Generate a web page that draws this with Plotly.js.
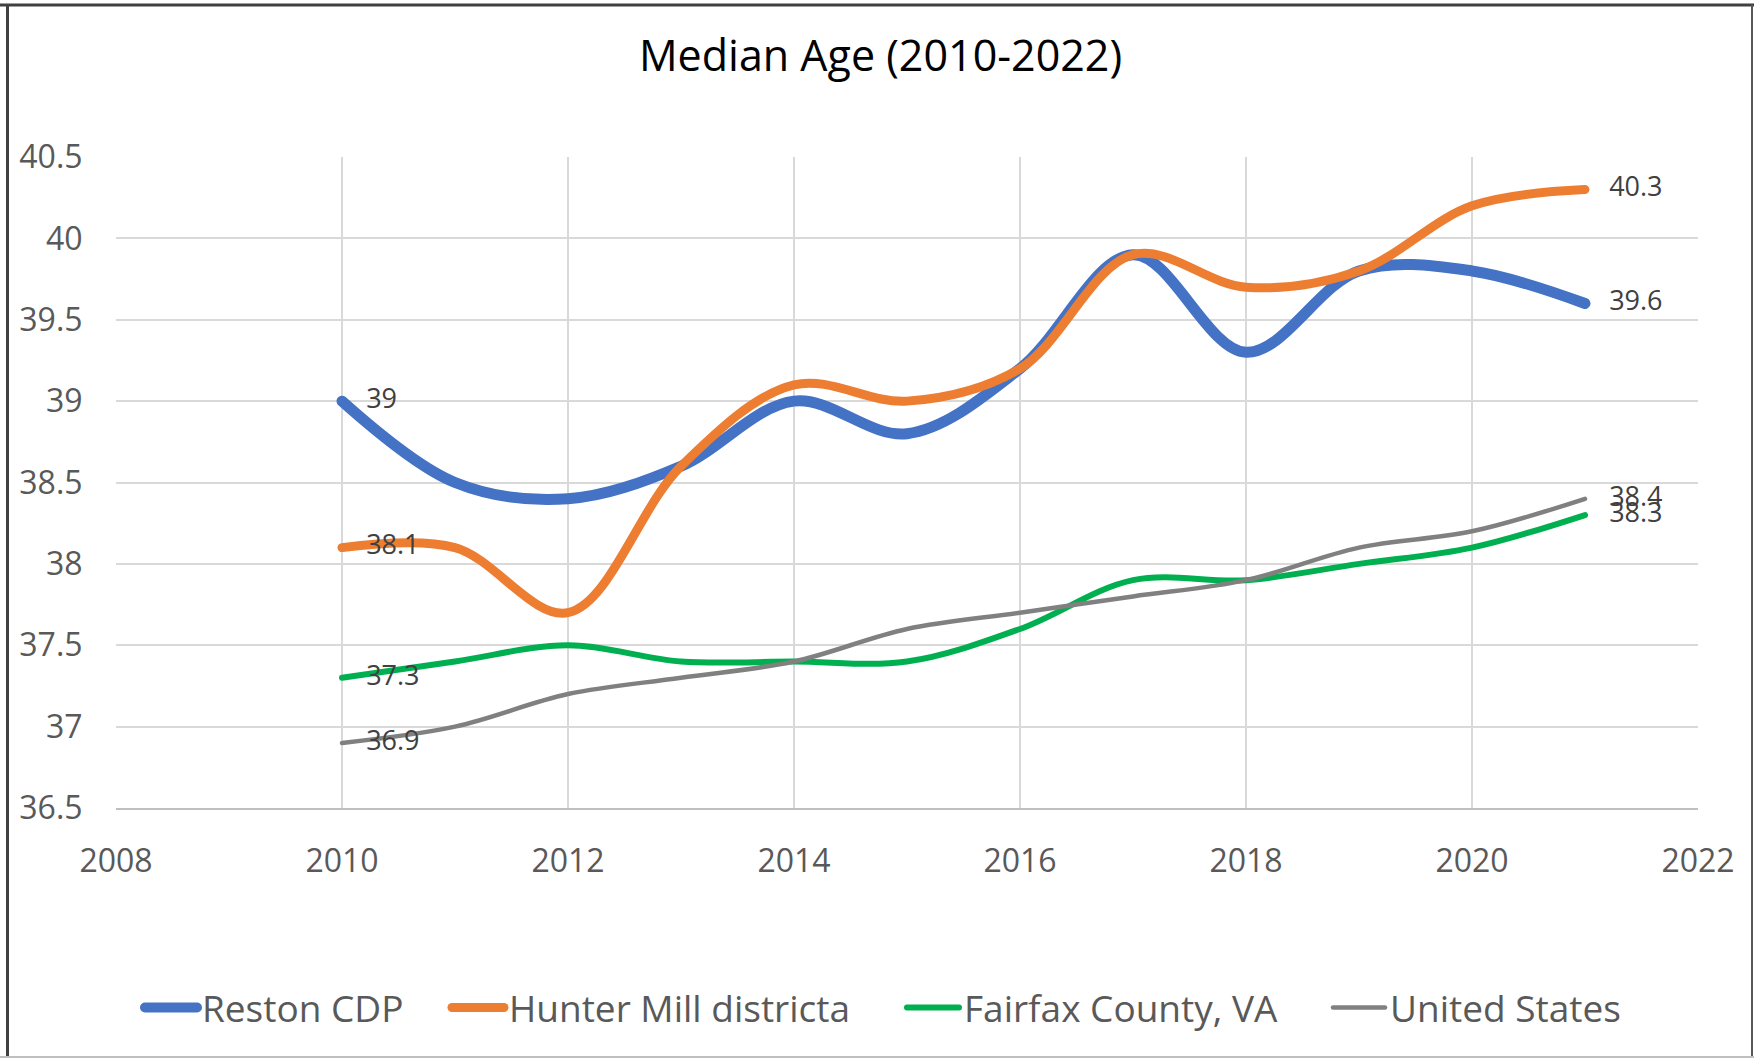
<!DOCTYPE html>
<html>
<head>
<meta charset="utf-8">
<script src="https://cdn.plot.ly/plotly-3.0.1.min.js"></script>
<style>
  html, body { margin: 0; padding: 0; background: #fff; }
  #chart { width: 1754px; height: 1058px; }
  .scatterlayer .js-line, .legendlines path { stroke-linecap: round !important; }
</style>
</head>
<body>
<div id="chart"></div>
<script>
// ---- Data ----
const years = [2010, 2011, 2012, 2013, 2014, 2015, 2016, 2017, 2018, 2019, 2020, 2021];
const seriesNames = ["Reston CDP", "Hunter Mill districta", "Fairfax County, VA", "United States"];
const reston   = [39.0, 38.5, 38.4, 38.6, 39.0, 38.8, 39.2, 39.9, 39.3, 39.8, 39.8, 39.6];
const hunter   = [38.1, 38.1, 37.7, 38.6, 39.1, 39.0, 39.2, 39.9, 39.7, 39.8, 40.2, 40.3];
const fairfax  = [37.3, 37.4, 37.5, 37.4, 37.4, 37.4, 37.6, 37.9, 37.9, 38.0, 38.1, 38.3];
const usa      = [36.9, 37.0, 37.2, 37.3, 37.4, 37.6, 37.7, 37.8, 37.9, 38.1, 38.2, 38.4];
const xTickVals = [2008, 2010, 2012, 2014, 2016, 2018, 2020, 2022];
const xTickText = ["2008", "2010", "2012", "2014", "2016", "2018", "2020", "2022"];
const yTickVals = [36.5, 37, 37.5, 38, 38.5, 39, 39.5, 40, 40.5];
const yTickText = ["36.5", "37", "37.5", "38", "38.5", "39", "39.5", "40", "40.5"];

// ---- Styles ----
const colors = ["#4472C4", "#ED7D31", "#00B050", "#808080"];
const widths = [11, 9, 6, 4.5];
const allSeries = [reston, hunter, fairfax, usa];
const FONT = "'Open Sans', 'Noto Sans', sans-serif";

const W = 1754, H = 1058;
const M = { l: 116, r: 56, t: 157, b: 250 };
const pw = W - M.l - M.r, ph = H - M.t - M.b;
const px2x = p => (p - M.l) / pw;
const py2y = p => (H - M.b - p) / ph;

// legend item left edges (px) – one legend per series
const legendIds = ["legend", "legend2", "legend3", "legend4"];
const legendLeft = [140, 447, 902, 1328];

const traces = [];
allSeries.forEach((vals, i) => {
  traces.push({
    type: "scatter", mode: "lines",
    name: seriesNames[i],
    legend: legendIds[i],
    x: years, y: vals,
    line: { color: colors[i], width: widths[i], shape: "spline", smoothing: 1 },
    hoverinfo: "x+y+name"
  });
});
allSeries.forEach((vals, i) => {
  const n = vals.length;
  traces.push({
    type: "scatter", mode: "markers+text",
    showlegend: false, hoverinfo: "skip",
    x: [years[0], years[n - 1]],
    y: [vals[0], vals[n - 1]],
    text: [String(vals[0]), String(vals[n - 1])],
    textposition: "middle right",
    textfont: { family: FONT, size: 27, color: "#404040" },
    marker: { size: 37, opacity: 0, color: colors[i] },
    cliponaxis: false
  });
});

const border = (x0, y0, x1, y1, color, width) => ({
  type: "line", xref: "paper", yref: "paper",
  x0: px2x(x0), y0: py2y(y0), x1: px2x(x1), y1: py2y(y1),
  line: { color: color, width: width }, layer: "above"
});

const legendStyle = left => ({
  orientation: "h",
  xref: "container", yref: "container",
  x: left / W, xanchor: "left",
  y: 1 - 1008 / H, yanchor: "middle",
  font: { family: FONT, size: 37, color: "#595959" },
  itemwidth: 52,
  bgcolor: "rgba(0,0,0,0)"
});

const layout = {
  width: W, height: H,
  margin: M,
  paper_bgcolor: "#ffffff", plot_bgcolor: "#ffffff",
  font: { family: FONT, color: "#595959" },
  title: {
    text: "Median Age (2010-2022)",
    font: { family: FONT, size: 43, color: "#000000" },
    x: 0.502, xref: "container", xanchor: "center",
    y: 1 - 56 / H, yref: "container", yanchor: "middle"
  },
  xaxis: {
    range: [2008, 2022], tickvals: xTickVals, ticktext: xTickText,
    showgrid: true, gridcolor: "#D9D9D9", gridwidth: 2,
    zeroline: false, showline: true, linecolor: "#BFBFBF", linewidth: 2,
    ticks: "outside", ticklen: 24, tickcolor: "rgba(0,0,0,0)",
    tickfont: { family: FONT, size: 32, color: "#595959" },
    fixedrange: true
  },
  yaxis: {
    range: [36.5, 40.5], tickvals: yTickVals, ticktext: yTickText,
    showgrid: true, gridcolor: "#D9D9D9", gridwidth: 2,
    zeroline: false, showline: false,
    ticks: "outside", ticklen: 26, tickcolor: "rgba(0,0,0,0)",
    tickfont: { family: FONT, size: 32, color: "#595959" },
    fixedrange: true
  },
  legend: legendStyle(legendLeft[0]),
  legend2: legendStyle(legendLeft[1]),
  legend3: legendStyle(legendLeft[2]),
  legend4: legendStyle(legendLeft[3]),
  shapes: [
    border(0, 5, W, 5, "#404040", 3),
    border(7.5, 5, 7.5, H, "#404040", 3),
    border(1752, 5, 1752, H, "#595959", 2),
    border(0, 1057, W, 1057, "#BFBFBF", 2)
  ],
  showlegend: true
};

Plotly.newPlot("chart", traces, layout, { displayModeBar: false, responsive: false });
</script>
</body>
</html>
